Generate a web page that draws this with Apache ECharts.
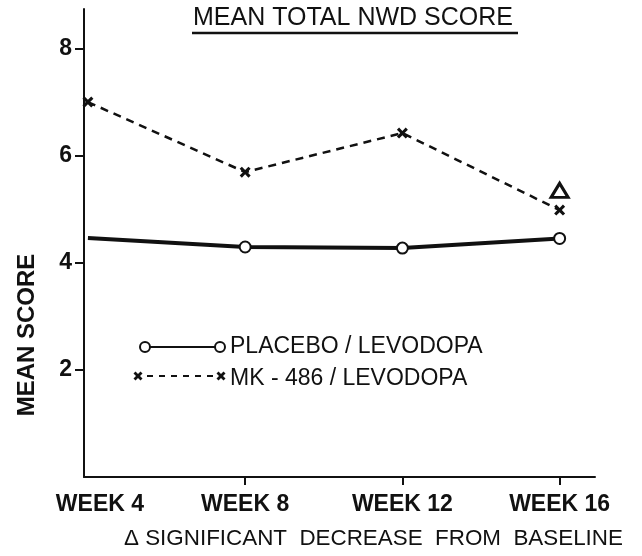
<!DOCTYPE html>
<html>
<head>
<meta charset="utf-8">
<title>Mean total NWD score</title>
<script src="https://cdn.jsdelivr.net/npm/echarts@6/dist/echarts.min.js"></script>
<style>
  html, body { margin: 0; padding: 0; background: #fff; }
  #chart { width: 642px; height: 556px; }
</style>
</head>
<body>
<div id="chart"></div>
<script>
// data
const weeks = [4, 8, 12, 16]
const weekLabels = ['WEEK 4', 'WEEK 8', 'WEEK 12', 'WEEK 16']
const placebo = [4.47, 4.30, 4.28, 4.46]
const mk486 = [7.01, 5.70, 6.43, 4.99]
const yTicks = [2, 4, 6, 8]
// week 16 of MK-486 marked as significant decrease
const signifPoint = [16, 5.36]

const FONT = '"Liberation Sans", Arial, sans-serif'
const INK = '#111'

const chart = echarts.init(document.getElementById('chart'))

// filled "x" marker
const crossPath = 'path://M2,0 L5,3 L8,0 L10,2 L7,5 L10,8 L8,10 L5,7 L2,10 L0,8 L3,5 L0,2 Z'

const labelOf = {}
weeks.forEach((w, i) => { labelOf[w] = weekLabels[i] })

// small "x" drawn with two strokes, for the legend
const legendCross = (cx, cy) => ([
  { type: 'line', shape: { x1: cx - 3.5, y1: cy - 3.5, x2: cx + 3.5, y2: cy + 3.5 }, style: { stroke: INK, lineWidth: 2.8 } },
  { type: 'line', shape: { x1: cx - 3.5, y1: cy + 3.5, x2: cx + 3.5, y2: cy - 3.5 }, style: { stroke: INK, lineWidth: 2.8 } }
])

const option = {
  backgroundColor: '#fff',
  animation: false,
  grid: { left: 84, right: 47, top: 9, bottom: 79 },
  xAxis: {
    type: 'value',
    min: 3.9,
    max: 16.9,
    splitLine: { show: false },
    axisLine: { lineStyle: { color: INK, width: 2 } },
    axisTick: {
      customValues: weeks.slice(1),
      length: 8,
      lineStyle: { color: INK, width: 2 }
    },
    axisLabel: {
      customValues: weeks,
      margin: 16,
      color: INK,
      fontFamily: FONT,
      fontWeight: 'bold',
      fontSize: 23,
      formatter: v => v === weeks[0] ? '{first|' + labelOf[v] + '}' : labelOf[v],
      rich: {
        first: {
          fontFamily: FONT,
          fontWeight: 'bold',
          fontSize: 23,
          color: INK,
          padding: [0, 0, 0, 24]
        }
      }
    }
  },
  yAxis: {
    type: 'value',
    min: 0,
    max: 8.75,
    splitLine: { show: false },
    axisLine: { lineStyle: { color: INK, width: 2 } },
    axisTick: {
      customValues: yTicks,
      length: 9,
      lineStyle: { color: INK, width: 2 }
    },
    axisLabel: {
      customValues: yTicks,
      margin: 12,
      color: INK,
      fontFamily: FONT,
      fontWeight: 'bold',
      fontSize: 23
    }
  },
  series: [
    {
      name: 'PLACEBO / LEVODOPA',
      type: 'line',
      data: weeks.map((w, i) => i === 0
        ? { value: [w, placebo[i]], symbol: 'none' }
        : [w, placebo[i]]),
      symbol: 'circle',
      symbolSize: 11,
      itemStyle: { color: '#fff', borderColor: INK, borderWidth: 2 },
      lineStyle: { color: INK, width: 4 },
      z: 3
    },
    {
      name: 'MK - 486 / LEVODOPA',
      type: 'line',
      data: weeks.map((w, i) => [w, mk486[i]]),
      symbol: crossPath,
      symbolSize: 11,
      itemStyle: { color: INK },
      lineStyle: { color: INK, width: 2.5, type: [8, 6] },
      markPoint: {
        symbol: 'triangle',
        symbolSize: [17, 14],
        itemStyle: { color: '#fff', borderColor: INK, borderWidth: 3 },
        label: { show: false },
        data: [{ coord: signifPoint }]
      },
      z: 4
    }
  ],
  graphic: [
    // title with underline
    {
      type: 'text', x: 193, y: 6,
      style: { text: 'MEAN TOTAL NWD SCORE', font: '25px ' + FONT, fill: INK }
    },
    {
      type: 'line', shape: { x1: 192, y1: 33, x2: 518, y2: 33 },
      style: { stroke: INK, lineWidth: 2.5 }
    },
    // y axis title
    {
      type: 'text', x: 27, y: 335, rotation: Math.PI / 2,
      style: {
        text: 'MEAN SCORE', font: 'bold 24px ' + FONT, fill: INK,
        align: 'center', verticalAlign: 'middle'
      }
    },
    // legend: placebo
    {
      type: 'line', shape: { x1: 145, y1: 347, x2: 220, y2: 347 },
      style: { stroke: INK, lineWidth: 1.8 }
    },
    {
      type: 'circle', shape: { cx: 145, cy: 347, r: 5 },
      style: { fill: '#fff', stroke: INK, lineWidth: 2 }
    },
    {
      type: 'circle', shape: { cx: 220, cy: 347, r: 5 },
      style: { fill: '#fff', stroke: INK, lineWidth: 2 }
    },
    {
      type: 'text', x: 230, y: 347,
      style: {
        text: 'PLACEBO / LEVODOPA', font: '23px ' + FONT, fill: INK,
        verticalAlign: 'middle'
      }
    },
    // legend: MK-486
    {
      type: 'line', shape: { x1: 147, y1: 376, x2: 214, y2: 376 },
      style: { stroke: INK, lineWidth: 2, lineDash: [6, 6] }
    },
    ...legendCross(138, 376),
    ...legendCross(221, 376),
    {
      type: 'text', x: 230, y: 379,
      style: {
        text: 'MK - 486 / LEVODOPA', font: '23px ' + FONT, fill: INK,
        verticalAlign: 'middle'
      }
    },
    // footnote
    {
      type: 'text', x: 124, y: 528,
      style: {
        text: '\u0394 SIGNIFICANT  DECREASE  FROM  BASELINE', font: '22.4px ' + FONT, fill: INK
      }
    }
  ]
}

chart.setOption(option)
window.addEventListener('resize', () => chart.resize())
</script>
</body>
</html>
